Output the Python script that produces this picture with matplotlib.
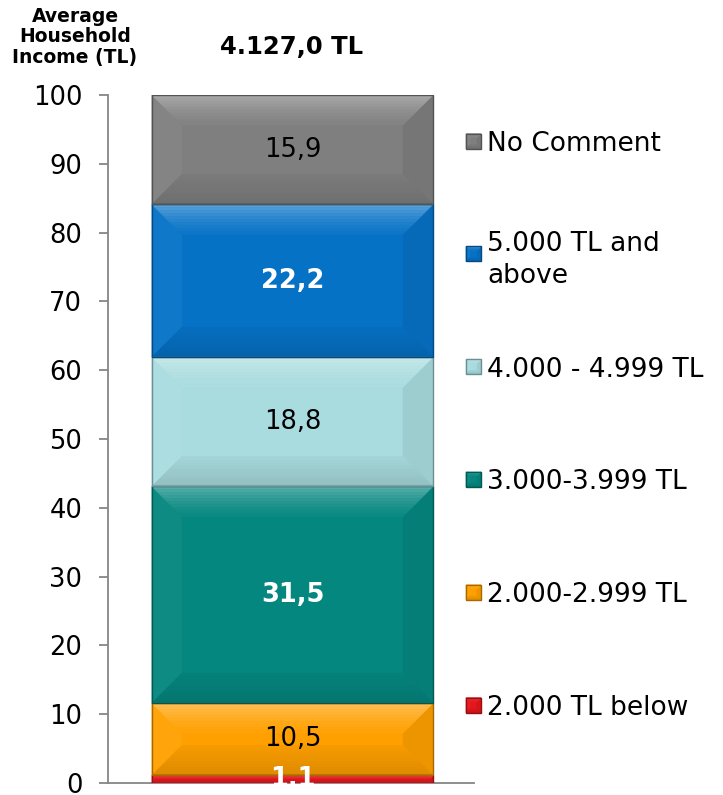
import numpy as np
import matplotlib.pyplot as plt
from matplotlib.patches import Polygon
from matplotlib.colors import to_rgb
from matplotlib.transforms import IdentityTransform

plt.rcParams['font.family'] = ['DejaVu Sans']

# data (bottom -> top)
categories = ['2.000 TL below', '2.000-2.999 TL', '3.000-3.999 TL',
              '4.000 - 4.999 TL', '5.000 TL and\nabove', 'No Comment']
shares = [1.1, 10.5, 31.5, 18.8, 22.2, 15.9]
value_labels = ['1,1', '10,5', '31,5', '18,8', '22,2', '15,9']
colors = ['#E5161C', '#FFA000', '#04877F', '#A9DCDF', '#0672C6', '#7F7F7F']
label_colors = ['white', 'black', 'white', 'black', 'white', 'black']
label_bold = [True, False, True, False, True, False]
yticks = [0, 10, 20, 30, 40, 50, 60, 70, 80, 90, 100]
avg_income = '4.127,0 TL'

W, H = 723, 795
fig = plt.figure(figsize=(W / 100, H / 100), dpi=100)
ax = fig.add_axes([108 / W, 12 / H, (474 - 108) / W, 688 / H])


def lighten(c, f):
    c = np.array(to_rgb(c))
    return tuple(c + (1 - c) * f)


def darken(c, f):
    c = np.array(to_rgb(c))
    return tuple(c * (1 - f))


def bevel(target, x0, y0, x1, y1, color, depth, fill=False):
    # bevelled rectangle in pixel coords
    b = min(depth, (y1 - y0) / 2, (x1 - x0) / 2)
    tr = IdentityTransform()
    add = target.add_patch if hasattr(target, 'add_patch') else target.add_artist

    def poly(pts, fc, z=3):
        add(Polygon(pts, closed=True, fc=fc, ec=fc, lw=0.4, transform=tr, zorder=z))

    if fill:
        poly([(x0, y0), (x1, y0), (x1, y1), (x0, y1)], color, 2.5)
    poly([(x0, y0), (x0, y1), (x0 + b, y1 - b), (x0 + b, y0 + b)], lighten(color, 0.04))
    poly([(x1, y0), (x1, y1), (x1 - b, y1 - b), (x1 - b, y0 + b)], darken(color, 0.07))
    n = 10
    for k in range(n):
        d0, d1 = b * k / n, b * (k + 1) / n
        f = 0.30 * (1 - k / n) ** 1.5 + 0.02
        poly([(x0 + d0, y1 - d0), (x1 - d0, y1 - d0),
              (x1 - d1, y1 - d1), (x0 + d1, y1 - d1)], lighten(color, f))
    for k in range(n):
        d0, d1 = b * k / n, b * (k + 1) / n
        f = 0.10 * (1 - k / n) + 0.03
        poly([(x0 + d0, y0 + d0), (x1 - d0, y0 + d0),
              (x1 - d1, y0 + d1), (x0 + d1, y0 + d1)], darken(color, f))
    add(Polygon([(x0, y0), (x1, y0), (x1, y1), (x0, y1)], closed=True,
                fc='none', ec=darken(color, 0.35), lw=1.0, transform=tr, zorder=4))


ax.set_xlim(0, 1)
ax.set_ylim(0, 100)

bottoms = np.concatenate([[0], np.cumsum(shares)[:-1]])
bars = ax.bar([0.504] * len(shares), shares, bottom=bottoms, width=0.768,
              color=colors, edgecolor='none', zorder=2)

fig.canvas.draw()
for rect, c in zip(bars, colors):
    (px0, py0), (px1, py1) = ax.transData.transform(
        [(rect.get_x(), rect.get_y()),
         (rect.get_x() + rect.get_width(), rect.get_y() + rect.get_height())])
    bevel(ax, px0, py0, px1, py1, c, 30)

for b, v, lab, lc, bold in zip(bottoms, shares, value_labels, label_colors, label_bold):
    ax.text(0.504, b + v / 2, lab, ha='center', va='center', color=lc,
            fontsize=18.5, fontweight='bold' if bold else 'normal', zorder=6)

# axes styling
for s in ['top', 'right']:
    ax.spines[s].set_visible(False)
for s in ['left', 'bottom']:
    ax.spines[s].set_color('#868686')
    ax.spines[s].set_linewidth(1.3)
ax.set_yticks(yticks)
ax.set_xticks([])
ax.tick_params(axis='y', direction='out', length=6.5, width=1.3,
               color='#868686', pad=12, labelsize=18.5)

# header texts
fig.text(75 / W, 1 - 37 / H, 'Average\nHousehold\nIncome (TL)', ha='center',
         va='center', fontsize=13.5, fontweight='bold', linespacing=1.08)
fig.text(292 / W, 1 - 47 / H, avg_income, ha='center', va='center',
         fontsize=17.5, fontweight='bold')

# legend (top -> bottom)
leg_y = np.linspace(141, 705, len(categories))
for yy, cat, c in zip(leg_y, categories[::-1], colors[::-1]):
    py = H - yy
    bevel(fig, 466, py - 7.5, 481, py + 7.5, c, 4, fill=True)
    fig.text(487 / W, py / H, cat, ha='left', va='center_baseline',
             fontsize=19, linespacing=1.3)

fig.savefig('out.png', dpi=100)
